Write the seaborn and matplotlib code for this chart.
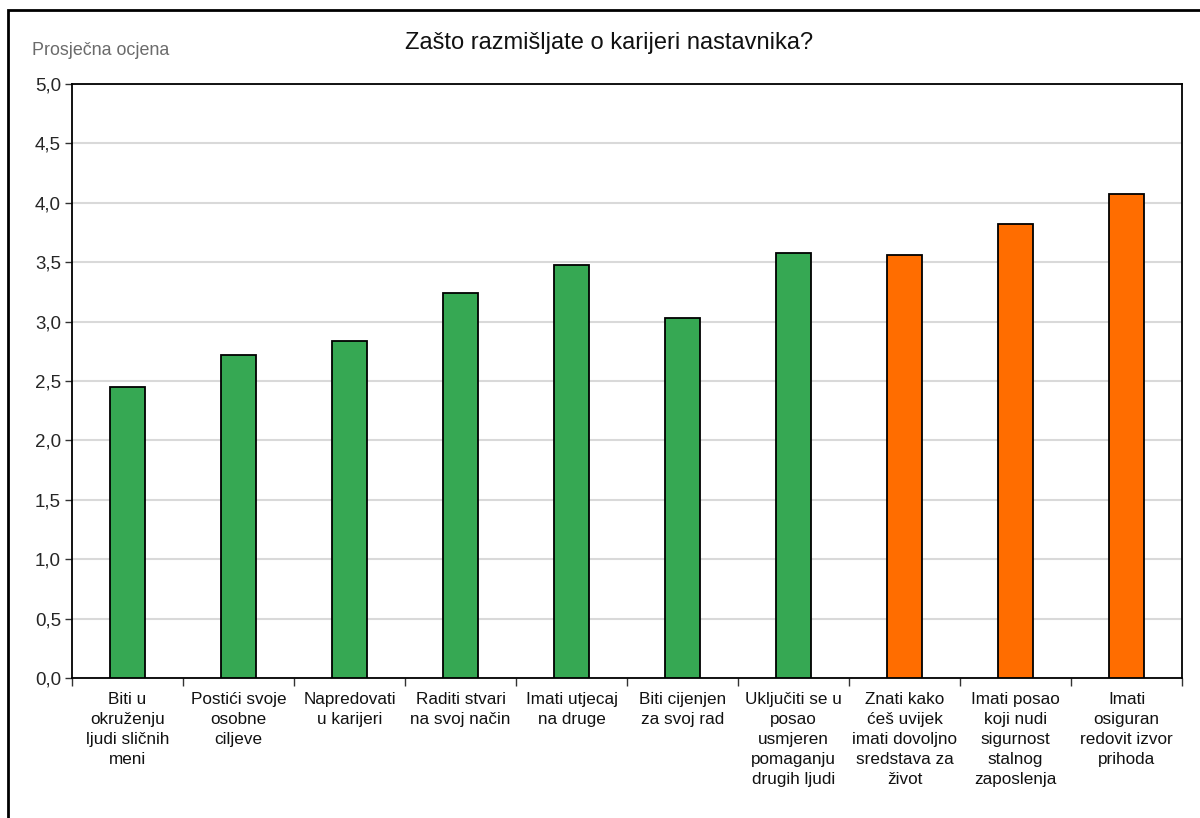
import pandas as pd
import seaborn as sns
import matplotlib.pyplot as plt
from matplotlib.patches import Rectangle
from matplotlib.ticker import FuncFormatter, MultipleLocator

# Categories (tick labels keep the original line breaks)
categories = [
    "Biti u\nokruženju\nljudi sličnih\nmeni",
    "Postići svoje\nosobne\nciljeve",
    "Napredovati\nu karijeri",
    "Raditi stvari\nna svoj način",
    "Imati utjecaj\nna druge",
    "Biti cijenjen\nza svoj rad",
    "Uključiti se u\nposao\nusmjeren\npomaganju\ndrugih ljudi",
    "Znati kako\nćeš uvijek\nimati dovoljno\nsredstava za\nživot",
    "Imati posao\nkoji nudi\nsigurnost\nstalnog\nzaposlenja",
    "Imati\nosiguran\nredovit izvor\nprihoda",
]
scores = [2.45, 2.72, 2.84, 3.24, 3.48, 3.03, 3.58, 3.56, 3.82, 4.07]
groups = ["a", "a", "a", "a", "a", "a", "a", "b", "b", "b"]
colors = {"a": "#36a853", "b": "#ff6d00"}

df = pd.DataFrame({"cat": categories, "score": scores, "grp": groups})

sns.set_style("white")
plt.rcParams["font.family"] = ["Liberation Sans", "DejaVu Sans"]

fig = plt.figure(figsize=(12, 8.18), dpi=100)
ax = fig.add_axes([0.06, 0.1711, 0.925, 0.7262])

sns.barplot(data=df, x="cat", y="score", hue="grp", palette=colors,
            dodge=False, width=0.32, edgecolor="black", linewidth=1.3,
            saturation=1, legend=False, ax=ax, zorder=3)

ax.set_ylim(0, 5)
ax.set_xlim(-0.5, len(categories) - 0.5)
ax.yaxis.set_major_locator(MultipleLocator(0.5))
ax.yaxis.set_major_formatter(FuncFormatter(lambda v, p: f"{v:.1f}".replace(".", ",")))
ax.yaxis.grid(True, color="#d9d9d9", linewidth=1.5, zorder=0)
ax.set_axisbelow(True)

# x ticks at category boundaries, labels centered
ax.set_xticks([i + 0.5 for i in range(-1, len(categories))], minor=False)
ax.set_xticklabels([])
ax.set_xticks(range(len(categories)), minor=True)
ax.set_xticklabels(categories, minor=True, fontsize=12.3, linespacing=1.42, color="#111111")
ax.tick_params(axis="x", which="minor", bottom=True, length=0, pad=10)
ax.tick_params(axis="x", which="major", bottom=True, length=6, width=1, color="#333333", direction="out")
ax.tick_params(axis="y", left=True, length=5, width=1, color="#333333", direction="out", labelsize=13.5, pad=3)
ax.set_xlabel("")
ax.set_ylabel("")

for s in ax.spines.values():
    s.set_color("black")
    s.set_linewidth(1.3)

fig.text(0.5075, 0.948, "Zašto razmišljate o karijeri nastavnika?", ha="center", va="center",
         fontsize=17, color="#111111")
fig.text(0.027, 0.938, "Prosječna ocjena", ha="left", va="center", fontsize=12.9, color="#6b6b6b")

# outer chart frame (extends past right/bottom edges)
fig.patches.append(Rectangle((8 / 1200, -0.05), 1.2, 0.05 + (818 - 10) / 818,
                             transform=fig.transFigure, fill=False,
                             edgecolor="black", linewidth=2))

fig.savefig("out.png", dpi=100)
